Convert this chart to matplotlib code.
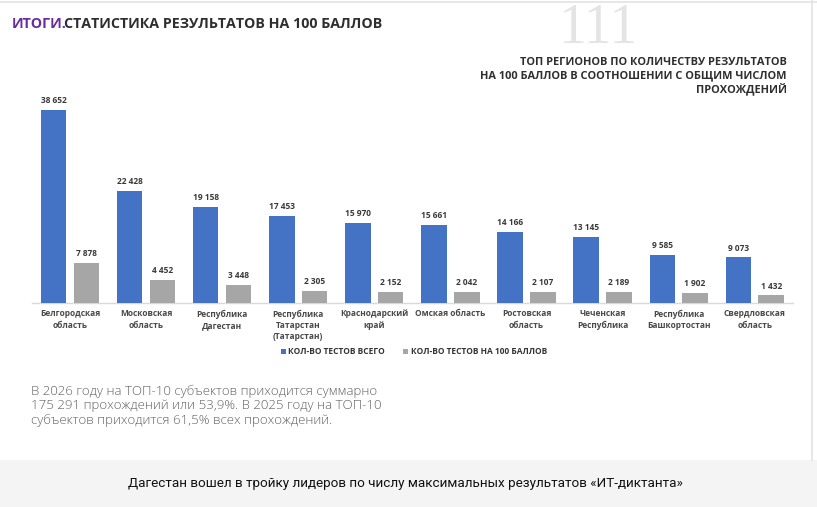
import matplotlib
matplotlib.use("Agg")
import matplotlib.pyplot as plt
from matplotlib.patches import Rectangle
from matplotlib.lines import Line2D
import numpy as np

# data
regions = [
    "Белгородская\nобласть",
    "Московская\nобласть",
    "Республика\nДагестан",
    "Республика\nТатарстан\n(Татарстан)",
    "Краснодарский\nкрай",
    "Омская область",
    "Ростовская\nобласть",
    "Чеченская\nРеспублика",
    "Республика\nБашкортостан",
    "Свердловская\nобласть",
]
tests_total = [38652, 22428, 19158, 17453, 15970, 15661, 14166, 13145, 9585, 9073]
tests_100 = [7878, 4452, 3448, 2305, 2152, 2042, 2107, 2189, 1902, 1432]
series_names = ["КОЛ-ВО ТЕСТОВ ВСЕГО", "КОЛ-ВО ТЕСТОВ НА 100 БАЛЛОВ"]

BLUE = "#4472c4"
GREY = "#a6a6a6"
W, H = 817, 507

plt.rcParams['font.family'] = ['Open Sans', 'DejaVu Sans']

fig = plt.figure(figsize=(W / 100, H / 100), dpi=100)
fig.patch.set_facecolor("white")

# page borders and caption band
fig.add_artist(Rectangle((0, 0), 1, 47 / H, transform=fig.transFigure,
                         facecolor="#f4f4f4", edgecolor="none", zorder=0))
fig.add_artist(Line2D([0, 1], [1 - 2 / H, 1 - 2 / H], transform=fig.transFigure,
                      color="#e3e3e3", lw=1.2))
fig.add_artist(Line2D([812 / W, 812 / W], [47 / H, 1], transform=fig.transFigure,
                      color="#e3e3e3", lw=1.2))

# faint ghost digits behind the header
fig.text(598 / W, 1 - 29 / H, "111", ha="center", va="center", fontsize=40,
         family="Liberation Serif", color="#e4e4e4", zorder=0)

ax_left, ax_right = 31.85, 792.85
base_y = 302.5
ax = fig.add_axes([ax_left / W, (H - base_y) / H, (ax_right - ax_left) / W, 199 / H])
ax.set_xlim(-0.5, 9.5)
ax.set_ylim(0, 40000)
ax.patch.set_alpha(0)

x = np.arange(len(regions))
off = 0.2155
bw = 0.335
b1 = ax.bar(x - off, tests_total, bw, color=BLUE, label=series_names[0], zorder=3)
b2 = ax.bar(x + off, tests_100, bw, color=GREY, label=series_names[1], zorder=3)

fmt = lambda v: f"{v:,}".replace(",", " ")
for bars, vals in ((b1, tests_total), (b2, tests_100)):
    for r, v in zip(bars, vals):
        ax.annotate(fmt(v), (r.get_x() + r.get_width() / 2, v), xytext=(0, 3.5),
                    textcoords="offset points", ha="center", va="bottom",
                    fontsize=6, fontweight="bold", color="#3a3a3a")

for s in ["top", "right", "left"]:
    ax.spines[s].set_visible(False)
ax.spines["bottom"].set_color("#d9d9d9")
ax.spines["bottom"].set_linewidth(1)
ax.set_yticks([])
ax.set_xticks(x)
ax.set_xticklabels(regions, fontsize=6, fontweight="bold", color="#4a4a4a",
                   linespacing=1.3, va="top")
ax.tick_params(axis="x", length=0, pad=5)

fig.legend(handles=[b1, b2], labels=series_names, loc="center",
           bbox_to_anchor=(414 / W, 1 - 352 / H), ncol=2, frameon=False,
           prop={"size": 6, "weight": "bold"}, labelcolor="#333333",
           handlelength=0.6, handleheight=0.6, handletextpad=0.3,
           columnspacing=2.2)

# header: purple lead word, then the rest right after it
t1 = fig.text(12 / W, 1 - 24 / H, "ИТОГИ.", ha="left", va="center", fontsize=10.3,
              fontweight="bold", color="#6a2c9e")
plt.annotate("СТАТИСТИКА РЕЗУЛЬТАТОВ НА 100 БАЛЛОВ", xy=(1, 0.5), xycoords=t1,
             xytext=(-2, 0), textcoords="offset points", ha="left", va="center",
             fontsize=10.3, fontweight="bold", color="#2e2e2e",
             annotation_clip=False)
fig.text(787 / W, 1 - 77 / H,
         "ТОП РЕГИОНОВ ПО КОЛИЧЕСТВУ РЕЗУЛЬТАТОВ\nНА 100 БАЛЛОВ В СООТНОШЕНИИ С ОБЩИМ ЧИСЛОМ\nПРОХОЖДЕНИЙ",
         ha="right", va="center", fontsize=7.9, fontweight="bold", color="#2e2e2e",
         linespacing=1.27, multialignment="right")

# note under the chart
fig.text(31 / W, 1 - 406 / H,
         "В 2026 году на ТОП-10 субъектов приходится суммарно\n"
         "175 291 прохождений или 53,9%. В 2025 году на ТОП-10\n"
         "субъектов приходится 61,5% всех прохождений.",
         ha="left", va="center", fontsize=9.5, fontweight="light", color="#626262",
         linespacing=1.17)

# caption
fig.text(405 / W, 1 - 483 / H,
         "Дагестан вошел в тройку лидеров по числу максимальных результатов «ИТ-диктанта»",
         ha="center", va="center", fontsize=9.7, family="Roboto", color="#111111")

fig.savefig("out.png", dpi=100)
